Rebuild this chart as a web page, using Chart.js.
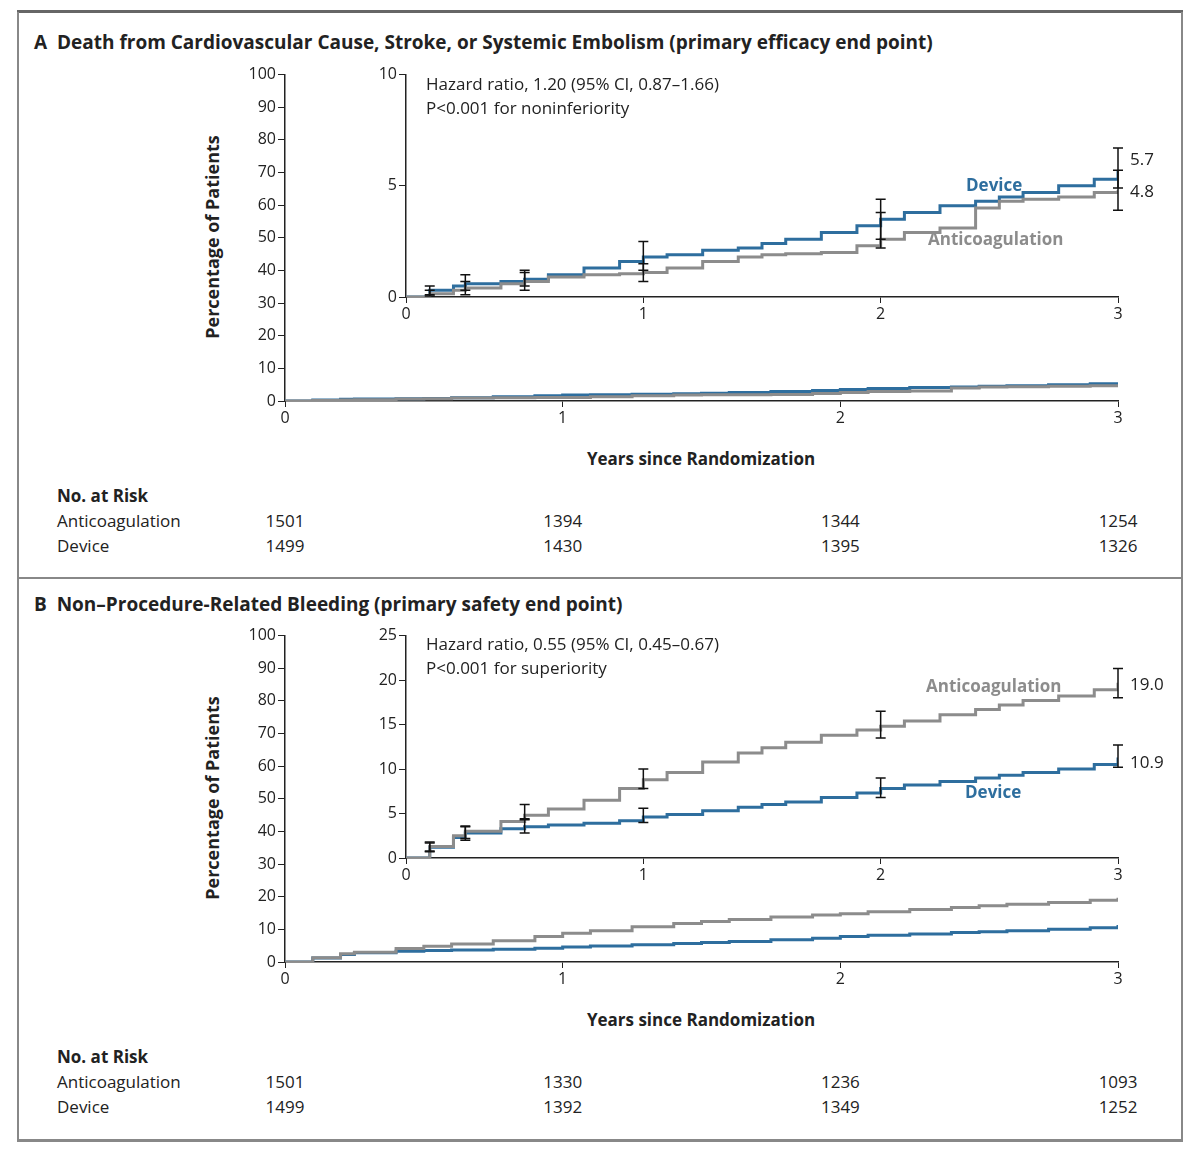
<!DOCTYPE html>
<html><head><meta charset="utf-8">
<script src="https://cdn.jsdelivr.net/npm/chart.js@4/dist/chart.umd.min.js"></script>
<style>
body{margin:0;background:#fff;font-family:"Open Sans",Lato,sans-serif;color:#222;}
#page{position:relative;width:1200px;height:1149px;overflow:hidden;}
canvas{position:absolute;}
.t{position:absolute;white-space:nowrap;font-size:17px;}
.b{font-weight:bold;}
.c{transform:translateX(-50%);}
.line{position:absolute;background:#888;}
.ylab{position:absolute;transform:translate(-50%,-50%) rotate(-90deg);font-weight:bold;font-size:18px;white-space:nowrap;}
</style></head>
<body><div id="page">
<div class="line" style="left:17px;top:10px;width:1166px;height:3px;background:#666"></div>
<div class="line" style="left:17px;top:12px;width:2px;height:1128px"></div>
<div class="line" style="left:1181px;top:12px;width:2px;height:1128px"></div>
<div class="line" style="left:17px;top:577px;width:1166px;height:2px"></div>
<div class="line" style="left:17px;top:1139px;width:1166px;height:3px"></div>

<div class="t b" style="left:34px;top:29px;font-size:19px">A&nbsp; Death from Cardiovascular Cause, Stroke, or Systemic Embolism (primary efficacy end point)</div>
<div class="t b" style="left:34px;top:591px;font-size:19px">B&nbsp; Non–Procedure-Related Bleeding (primary safety end point)</div>
<div class="ylab" style="left:212px;top:237px">Percentage of Patients</div>
<div class="ylab" style="left:212px;top:798px">Percentage of Patients</div>

<canvas id="mainA"></canvas><canvas id="insetA"></canvas>
<canvas id="mainB"></canvas><canvas id="insetB"></canvas>

<div class="t" style="left:426px;top:72px">Hazard ratio, 1.20 (95% CI, 0.87–1.66)</div>
<div class="t" style="left:426px;top:96px">P&lt;0.001 for noninferiority</div>
<div class="t b" style="left:966px;top:173px;color:#2e6e9e">Device</div>
<div class="t b" style="left:928px;top:227px;color:#8c8c8c">Anticoagulation</div>
<div class="t" style="left:1130px;top:147px">5.7</div>
<div class="t" style="left:1130px;top:179px">4.8</div>

<div class="t" style="left:426px;top:632px">Hazard ratio, 0.55 (95% CI, 0.45–0.67)</div>
<div class="t" style="left:426px;top:656px">P&lt;0.001 for superiority</div>
<div class="t b" style="left:926px;top:674px;color:#8c8c8c">Anticoagulation</div>
<div class="t b" style="left:965px;top:780px;color:#2e6e9e">Device</div>
<div class="t" style="left:1130px;top:672px">19.0</div>
<div class="t" style="left:1130px;top:750px">10.9</div>

<div id="risk"></div>
</div>
<script>
// ---- data ----
const timesA = [0,0.1,0.2,0.25,0.4,0.5,0.6,0.75,0.9,1,1.1,1.25,1.4,1.5,1.6,1.75,1.9,2,2.1,2.25,2.4,2.5,2.6,2.75,2.9,3];
const deviceA = [0,0.3,0.5,0.6,0.7,0.8,1.0,1.3,1.6,1.8,1.9,2.1,2.2,2.4,2.6,2.9,3.2,3.5,3.8,4.1,4.3,4.5,4.7,5.0,5.3,5.7];
const anticoagA = [0,0.15,0.3,0.4,0.6,0.7,0.9,1.0,1.05,1.1,1.3,1.6,1.8,1.9,1.95,2.0,2.3,2.6,2.9,3.1,4.0,4.3,4.4,4.5,4.7,4.8];
const timesB = [0,0.1,0.2,0.25,0.4,0.5,0.6,0.75,0.9,1,1.1,1.25,1.4,1.5,1.6,1.75,1.9,2,2.1,2.25,2.4,2.5,2.6,2.75,2.9,3];
const deviceB = [0,1.2,2.3,2.8,3.3,3.5,3.7,3.9,4.2,4.6,4.9,5.3,5.7,6.0,6.3,6.8,7.3,7.8,8.2,8.6,9.0,9.3,9.6,10.0,10.5,11.3];
const anticoagB = [0,1.3,2.5,3.0,4.1,4.8,5.5,6.5,7.8,8.8,9.6,10.8,11.8,12.4,13.0,13.8,14.4,14.8,15.4,16.1,16.7,17.2,17.7,18.2,18.9,19.7];
const ciTimes = [0.1,0.25,0.5,1,2,3];
const deviceA_lo = [0.1,0.3,0.5,1.2,2.6,4.9], deviceA_hi = [0.5,1.0,1.2,2.5,4.4,6.7];
const anticoagA_lo = [0.05,0.1,0.3,0.7,2.2,3.9], anticoagA_hi = [0.3,0.7,1.1,1.5,3.8,5.7];
const deviceB_lo = [0.7,2.0,2.8,4.0,6.8,10.2], deviceB_hi = [1.7,3.5,4.4,5.6,9.0,12.7];
const anticoagB_lo = [0.8,2.2,4.3,7.8,13.5,18.0], anticoagB_hi = [1.8,3.6,6.0,10.0,16.5,21.3];
const riskYears = [0,1,2,3];
const riskAnticoagA = [1501,1394,1344,1254], riskDeviceA = [1499,1430,1395,1326];
const riskAnticoagB = [1501,1330,1236,1093], riskDeviceB = [1499,1392,1349,1252];

const BLUE = '#2e6e9e', GRAY = '#8c8c8c';
const FONT = {family:'"Open Sans", Lato, sans-serif', size:16};

const errorBars = {
  id:'errorBars',
  afterDatasetsDraw(chart){
    const {ctx, scales:{x,y}} = chart;
    chart.data.datasets.forEach(ds => {
      if (!ds.ciLo) return;
      ctx.save(); ctx.strokeStyle = '#111'; ctx.lineWidth = 1.5;
      ciTimes.forEach((t,i) => {
        const px = x.getPixelForValue(t), y1 = y.getPixelForValue(ds.ciLo[i]), y2 = y.getPixelForValue(ds.ciHi[i]);
        ctx.beginPath(); ctx.moveTo(px,y1); ctx.lineTo(px,y2);
        ctx.moveTo(px-5,y1); ctx.lineTo(px+5,y1); ctx.moveTo(px-5,y2); ctx.lineTo(px+5,y2);
        ctx.stroke();
      });
      ctx.restore();
    });
  }
};

function series(times, vals){ return times.map((t,i)=>({x:t,y:vals[i]})); }

function makeChart(id, left, top, w, h, yMax, yStep, sets){
  const cv = document.getElementById(id);
  const L = 60, T = 10, R = 12, B = 35;
  cv.width = w+L+R; cv.height = h+T+B;
  cv.style.left = (left-L)+'px'; cv.style.top = (top-T)+'px';
  new Chart(cv, {
    type:'line',
    data:{datasets:sets.map(s=>({data:series(s.t,s.v), borderColor:s.c, borderWidth:3, stepped:true, pointRadius:0, fill:false, ciLo:s.lo, ciHi:s.hi}))},
    options:{
      responsive:false, animation:false, devicePixelRatio:1,
      layout:{padding:{top:T,right:R,left:0,bottom:0}},
      plugins:{legend:{display:false}, tooltip:{enabled:false}},
      scales:{
        x:{type:'linear', min:0, max:3, afterFit:s=>{s.height=B;},
           ticks:{stepSize:1, color:'#222', font:FONT, padding:2},
           grid:{drawOnChartArea:false, tickLength:6, color:'#222'}, border:{color:'#222', width:1.5}},
        y:{min:0, max:yMax, afterFit:s=>{s.width=L;},
           ticks:{stepSize:yStep, color:'#222', font:FONT, padding:2},
           grid:{drawOnChartArea:false, tickLength:7, color:'#222'}, border:{color:'#222', width:1.5}}
      }
    },
    plugins:[errorBars]
  });
}

makeChart('mainA',285,73,833,328,100,10,[
  {t:timesA,v:anticoagA,c:GRAY},{t:timesA,v:deviceA,c:BLUE}]);
makeChart('insetA',406,73,712,224,10,5,[
  {t:timesA,v:anticoagA,c:GRAY,lo:anticoagA_lo,hi:anticoagA_hi},{t:timesA,v:deviceA,c:BLUE,lo:deviceA_lo,hi:deviceA_hi}]);
makeChart('mainB',285,634,833,328,100,10,[
  {t:timesB,v:anticoagB,c:GRAY},{t:timesB,v:deviceB,c:BLUE}]);
makeChart('insetB',406,634,712,224,25,5,[
  {t:timesB,v:anticoagB,c:GRAY,lo:anticoagB_lo,hi:anticoagB_hi},{t:timesB,v:deviceB,c:BLUE,lo:deviceB_lo,hi:deviceB_hi}]);

// labels and number at risk
const risk = document.getElementById('risk');
function txt(html, x, y, cls){ const d=document.createElement('div'); d.className='t '+(cls||''); d.style.left=x+'px'; d.style.top=y+'px'; d.innerHTML=html; risk.appendChild(d); }
[[0,436,[riskAnticoagA,riskDeviceA]],[561,436,[riskAnticoagB,riskDeviceB]]].forEach(([off,_,rows])=>{
  txt('Years since Randomization',701,447+off,'b c');
  txt('No. at Risk',57,484+off,'b');
  txt('Anticoagulation',57,509+off); txt('Device',57,534+off);
  rows.forEach((r,ri)=> riskYears.forEach((yr,i)=> txt(r[i], 285+yr*277.7, 509+ri*25+off, 'c')));
});
[0,561].forEach(off=>{}); 
</script>
</body></html>
